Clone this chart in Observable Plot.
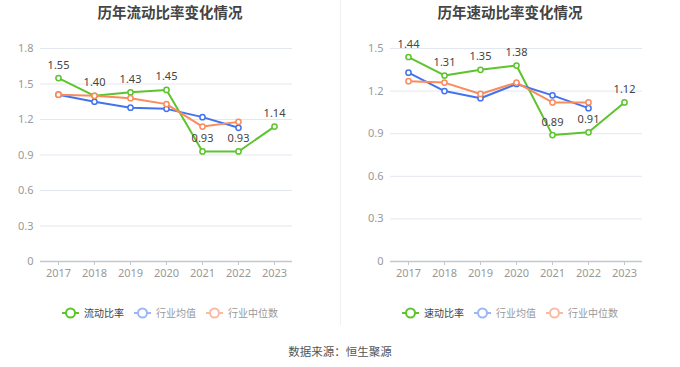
<!DOCTYPE html>
<html><head><meta charset="utf-8">
<script src="https://cdn.jsdelivr.net/npm/d3@7"></script>
<script src="https://cdn.jsdelivr.net/npm/@observablehq/plot@0.6"></script>
<style>
body{margin:0;background:#fff;font-family:"Noto Sans CJK SC","Noto Sans",sans-serif;}
#root{position:relative;width:680px;height:367px;overflow:hidden;}
.title{position:absolute;top:1px;width:340px;text-align:center;font-size:14.5px;font-weight:bold;color:#444;}
.panel{position:absolute;top:30px;}
.legend{position:absolute;top:305px;width:340px;display:flex;justify-content:center;font-size:10px;color:#999;}
.legend .item{display:flex;align-items:center;margin:0 5px;}
.legend svg{margin-right:5px;}
#divider{position:absolute;left:340px;top:0;width:1px;height:325px;background:#f0f0f0;}
#caption{position:absolute;top:343px;width:680px;text-align:center;font-size:11.5px;color:#555;}
</style></head>
<body><div id="root"></div>
<script>
const years = ["2017","2018","2019","2020","2021","2022","2023"];
// 流动比率 panel
const currentRatio = [1.55,1.40,1.43,1.45,0.93,0.93,1.14];
const currentIndustryMean = [1.41,1.35,1.30,1.29,1.22,1.13,null];
const currentIndustryMedian = [1.41,1.40,1.38,1.33,1.14,1.18,null];
const currentTicks = [0,0.3,0.6,0.9,1.2,1.5,1.8];
// 速动比率 panel
const quickRatio = [1.44,1.31,1.35,1.38,0.89,0.91,1.12];
const quickIndustryMean = [1.33,1.20,1.15,1.25,1.17,1.08,null];
const quickIndustryMedian = [1.27,1.26,1.18,1.26,1.12,1.12,null];
const quickTicks = [0,0.3,0.6,0.9,1.2,1.5];

const titles = ["历年流动比率变化情况","历年速动比率变化情况"];
const seriesNames = [["流动比率","行业均值","行业中位数"],["速动比率","行业均值","行业中位数"]];
const colors = ["#5cc42c","#4273ef","#fa8b5d"];
const legendColors = ["#5cc42c","#9cb6f6","#f9bba3"];
const legendText = ["#444","#999","#999"];

const root = document.getElementById("root");

function rows(vals){ return years.map((y,i)=>({year:y,value:vals[i]})).filter(d=>d.value!=null); }

function panel(idx, left, main, mean, median, ticks, ml, mr){
  const t = document.createElement("div");
  t.className="title"; t.style.left=left+"px"; t.textContent=titles[idx];
  root.appendChild(t);
  const series=[rows(main),rows(mean),rows(median)];
  const marks=[
    Plot.gridY(ticks,{stroke:"#e3e7f0",strokeOpacity:1}),
    Plot.ruleY([0],{stroke:"#c4c7cc",strokeWidth:1.5}),
    Plot.axisY({ticks, label:null, tickSize:0, tickPadding:7, tickFormat:d=>d===0?"0":d3.format(".1f")(d), fill:"#999", fontSize:11}),
    Plot.axisX({label:null, tickSize:4, tickPadding:4, stroke:"#c4c7cc", fill:"#999", fontSize:11})
  ];
  series.forEach((s,k)=>{
    marks.push(Plot.line(s,{x:"year",y:"value",stroke:colors[k],strokeWidth:2}));
    marks.push(Plot.dot(s,{x:"year",y:"value",r:2.6,stroke:colors[k],strokeWidth:1.5,fill:"#fff"}));
  });
  marks.push(Plot.text(series[0],{x:"year",y:"value",text:d=>d.value.toFixed(2),dy:-13,fill:"#444",fontSize:11}));
  const p = Plot.plot({
    width:340,height:250,marginTop:18,marginBottom:19,marginLeft:ml,marginRight:mr,
    x:{type:"point",domain:years,padding:0.5,axis:null,label:null},
    y:{domain:[0,ticks[ticks.length-1]],axis:null,label:null},
    style:{fontFamily:"Noto Sans, sans-serif",background:"transparent"},
    marks
  });
  const d = document.createElement("div");
  d.className="panel"; d.style.left=left+"px"; d.appendChild(p); root.appendChild(d);
  const lg=document.createElement("div");
  lg.className="legend"; lg.style.left=left+"px";
  seriesNames[idx].forEach((n,k)=>{
    const it=document.createElement("div"); it.className="item";
    it.innerHTML=`<svg width="17" height="12"><line x1="0" y1="6" x2="17" y2="6" stroke="${legendColors[k]}" stroke-width="2"/><circle cx="8.5" cy="6" r="4.5" fill="#fff" stroke="${legendColors[k]}" stroke-width="2"/></svg><span style="color:${legendText[k]}">${n}</span>`;
    lg.appendChild(it);
  });
  root.appendChild(lg);
}
panel(0,0,currentRatio,currentIndustryMean,currentIndustryMedian,currentTicks,40,48);
panel(1,340,quickRatio,quickIndustryMean,quickIndustryMedian,quickTicks,50,38);
const dv=document.createElement("div"); dv.id="divider"; root.appendChild(dv);
const cap=document.createElement("div"); cap.id="caption"; cap.textContent="数据来源：恒生聚源"; root.appendChild(cap);
</script></body></html>
